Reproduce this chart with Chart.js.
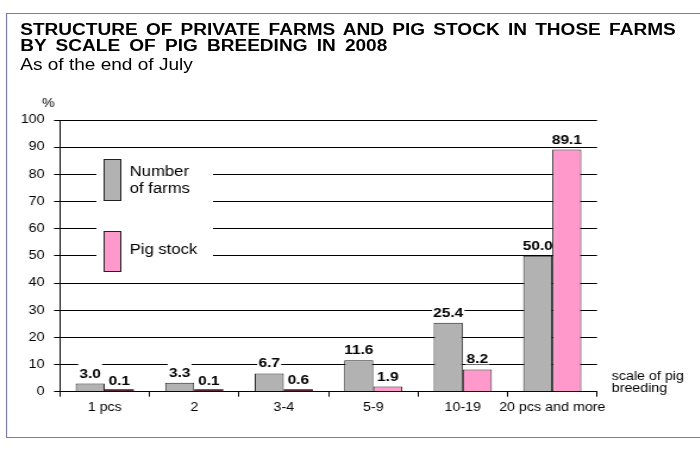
<!DOCTYPE html>
<html>
<head>
<meta charset="utf-8">
<script src="https://cdn.jsdelivr.net/npm/chart.js@4.4.0/dist/chart.umd.min.js"></script>
<style>
  html, body { margin: 0; padding: 0; background: #fff; overflow: hidden; }
  /* the whole sheet is laid out narrow and stretched sideways */
  #page { position: absolute; left: 0; top: 0; width: 588px; height: 450px;
          transform: scaleX(1.19); transform-origin: 0 0;
          font-family: 'Liberation Sans', Arial, sans-serif; color: #000; }
  #frame { position: absolute; left: 5px; top: 13px; width: 620px; height: 423px;
           border: 1px solid #7c7cab; border-right: none; }
  .title { position: absolute; left: 17px; font-size: 16px; font-weight: bold;
           line-height: 16px; white-space: nowrap; }
  #sub { position: absolute; left: 17px; top: 57px; font-size: 16px; line-height: 16px; white-space: nowrap; }
  #chartBox { position: absolute; left: 0; top: 0; width: 588px; height: 450px; }
</style>
</head>
<body>
<div id="page">
  <div id="frame"></div>
  <div class="title" style="top:22px; word-spacing:2.5px">STRUCTURE OF PRIVATE FARMS AND PIG STOCK IN THOSE FARMS</div>
  <div class="title" style="top:37.5px; word-spacing:3.3px">BY SCALE OF PIG BREEDING IN 2008</div>
  <div id="sub">As of the end of July</div>
  <div id="chartBox"><canvas id="pigChart"></canvas></div>
</div>
<script>
const categories = ['1 pcs', '2', '3-4', '5-9', '10-19', '20 pcs and more'];
const farmShares = [3.0, 3.3, 6.7, 11.6, 25.4, 50.0];
const pigShares = [0.1, 0.1, 0.6, 1.9, 8.2, 89.1];
const seriesNames = ['Number of farms', 'Pig stock'];

const FONT = '"Liberation Sans", Arial, sans-serif';
const GREY = '#b2b2b2';
const PINK = '#ff99cc';
const LABEL_FONT = 'bold 13px ' + FONT;

// white boxes behind the value labels and the legend, drawn over the grid but under the bars
const backdrops = {
    id: 'backdrops',
    beforeDatasetsDraw(chart) {
        const ctx = chart.ctx;
        ctx.save();
        ctx.font = LABEL_FONT;
        ctx.fillStyle = '#fff';
        chart.data.datasets.forEach((ds, i) => {
            chart.getDatasetMeta(i).data.forEach((bar, j) => {
                const w = ctx.measureText(ds.data[j].toFixed(1)).width;
                const base = bar.y - 6;
                ctx.fillRect(bar.x - w / 2 - 1, base - 14.5, w + 2, 15.5);
            });
        });

        // legend
        ctx.fillRect(81, 152, 98, 126);
        ctx.strokeStyle = '#222';
        ctx.lineWidth = 1;
        ctx.fillStyle = GREY;
        ctx.fillRect(87.5, 159.5, 14, 41);
        ctx.strokeRect(87.5, 159.5, 14, 41);
        ctx.fillStyle = PINK;
        ctx.fillRect(87.5, 231.5, 14, 40);
        ctx.strokeRect(87.5, 231.5, 14, 40);
        ctx.fillStyle = '#000';
        ctx.font = '14px ' + FONT;
        ctx.textBaseline = 'middle';
        ctx.fillText('Number', 109, 172);
        ctx.fillText('of farms', 109, 189);
        ctx.fillText('Pig stock', 109, 250);
        ctx.restore();
    },
    afterDatasetsDraw(chart) {
        const ctx = chart.ctx;
        ctx.save();
        // very flat bars still show their outline as a thin dark strip
        chart.data.datasets.forEach((ds, i) => {
            chart.getDatasetMeta(i).data.forEach((bar) => {
                if (bar.base - bar.y < 2) {
                    ctx.fillStyle = '#5c2438';
                    ctx.fillRect(bar.x - bar.width / 2, bar.base - 2, bar.width, 2);
                }
            });
        });
        ctx.font = LABEL_FONT;
        ctx.textAlign = 'center';
        ctx.textBaseline = 'alphabetic';
        ctx.fillStyle = '#000';
        chart.data.datasets.forEach((ds, i) => {
            chart.getDatasetMeta(i).data.forEach((bar, j) => {
                ctx.fillText(ds.data[j].toFixed(1), bar.x, bar.y - 6);
            });
        });
        ctx.restore();
    },
    afterDraw(chart) {
        const ctx = chart.ctx;
        ctx.save();
        ctx.fillStyle = '#000';
        ctx.textBaseline = 'middle';
        ctx.font = '12px ' + FONT;
        ctx.textAlign = 'center';
        ctx.fillText('%', 40.5, 104);
        ctx.textAlign = 'left';
        ctx.fillText('scale of pig', 514, 377);
        ctx.fillText('breeding', 514, 389);
        ctx.restore();
    }
};

new Chart(document.getElementById('pigChart'), {
    type: 'bar',
    data: {
        labels: categories,
        datasets: [
            {
                label: seriesNames[0],
                data: farmShares,
                backgroundColor: GREY,
                borderColor: '#222',
                borderWidth: 1
            },
            {
                label: seriesNames[1],
                data: pigShares,
                backgroundColor: PINK,
                borderColor: '#222',
                borderWidth: 1
            }
        ]
    },
    options: {
        responsive: true,
        maintainAspectRatio: false,
        animation: false,
        events: [],
        categoryPercentage: 0.65,
        barPercentage: 1,
        layout: { padding: { left: 0, right: 86.3, top: 120, bottom: 0 } },
        plugins: {
            legend: { display: false },
            tooltip: { enabled: false }
        },
        scales: {
            x: {
                grid: { drawOnChartArea: false, tickLength: 5, color: '#000', offset: true },
                border: { color: '#000' },
                ticks: { color: '#000', font: { family: FONT, size: 12 }, padding: 4, maxRotation: 0, autoSkip: false },
                afterFit(scale) { scale.height = 58.3; }
            },
            y: {
                min: 0,
                max: 100,
                grid: { color: '#000', tickLength: 5 },
                border: { color: '#000' },
                ticks: { stepSize: 10, color: '#000', font: { family: FONT, size: 12 }, padding: 8 },
                afterFit(scale) { scale.width = 50.4; }
            }
        }
    },
    plugins: [backdrops]
});
</script>
</body>
</html>
